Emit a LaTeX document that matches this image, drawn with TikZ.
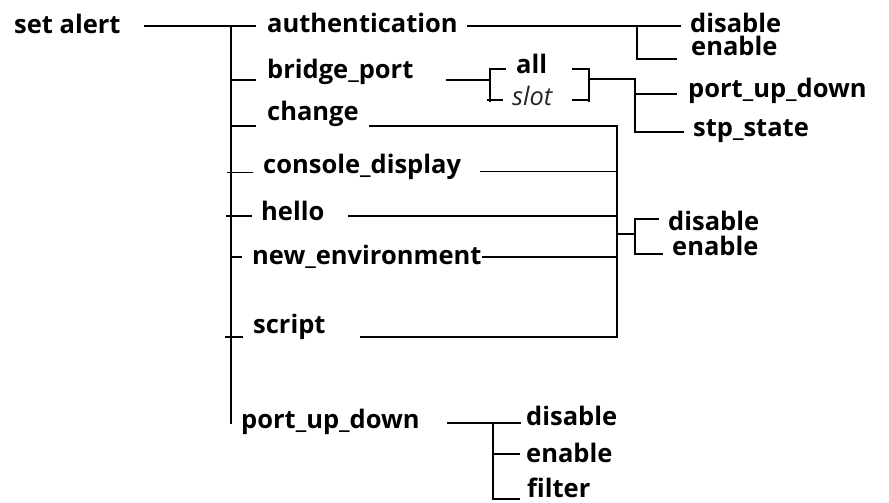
\documentclass[tikz,border=0pt]{standalone}
\usepackage{fontspec}
\setmainfont{Open Sans}
\newcommand{\lbf}{\fontsize{25.5}{30}\selectfont\bfseries}
\newcommand{\lit}{\fontsize{25.5}{30}\selectfont\itshape}
\begin{document}
\begin{tikzpicture}[x=1pt,y=-1pt,
  lbl/.style={anchor=base west, inner sep=0pt, font=\lbf},
  ilbl/.style={anchor=base west, inner sep=0pt, font=\lit, text=black!85},
  ln/.style={line width=1.6pt, line cap=rect},
  thin ln/.style={line width=1pt}]
\useasboundingbox (0,0) rectangle (889,503);
% labels
\node[lbl] (set) at (14,34) {set alert};
\node[lbl] (auth) at (267,33) {authentication};
\node[lbl] (bridge) at (267,78) {bridge\_port};
\node[lbl] (all) at (516,74) {all};
\node[ilbl] (slot) at (512,106) {slot};
\node[lbl] (change) at (267,120) {change};
\node[lbl] (console) at (263,173) {console\_display};
\node[lbl] (hello) at (261,220) {hello};
\node[lbl] (newenv) at (252,264) {new\_environment};
\node[lbl] (script) at (253,333) {script};
\node[lbl] (pud) at (241,428) {port\_up\_down};
\node[lbl, text depth=0pt] (adis) at (690,33) {disable};
\node[lbl, text height=16pt] (aen) at (691,56) {enable};
\node[lbl] (bpud) at (688,97) {port\_up\_down};
\node[lbl] (bstp) at (693,136) {stp\_state};
\node[lbl, text depth=0pt] (mdis) at (668,230) {disable};
\node[lbl, text height=16pt] (men) at (672,255) {enable};
\node[lbl] (pdis) at (526,425) {disable};
\node[lbl] (pen) at (526,462) {enable};
\node[lbl] (pfil) at (527,497) {filter};
% junction coordinates
\coordinate (setR) at (145,26);
\coordinate (mainTop) at (231,26);
\coordinate (mainBot) at (231,423);
\coordinate (authL) at (255,26);
\coordinate (bridgeJ) at (231,80);   \coordinate (bridgeL) at (255,80);
\coordinate (changeJ) at (231,126);  \coordinate (changeL) at (255,126);
\coordinate (consoleJ) at (227,172); \coordinate (consoleL) at (253,172);
\coordinate (helloJ) at (227,216);   \coordinate (helloL) at (251,216);
\coordinate (newenvJ) at (231,257);  \coordinate (newenvL) at (241,257);
\coordinate (scriptJ) at (226,337);  \coordinate (scriptL) at (242,337);
% authentication branch
\coordinate (authR) at (468,26);
\coordinate (authJ) at (637,26);
\coordinate (authE) at (680,26);
\coordinate (authJb) at (637,59);
\coordinate (authEb) at (676,59);
% bridge branch
\coordinate (bridgeR) at (447,80);
\coordinate (lbT) at (490,69); \coordinate (lbB) at (490,101);
\coordinate (lbTe) at (505,69); \coordinate (lbBe) at (502,100); \coordinate (lbBs) at (488,100);
\coordinate (rbT) at (589,69); \coordinate (rbB) at (589,101);
\coordinate (rbTs) at (573,69); \coordinate (rbBs) at (573,100);
\coordinate (rbM) at (589,79);
\coordinate (bJT) at (635,79); \coordinate (bJB) at (635,132);
\coordinate (bJ1) at (635,94); \coordinate (bE1) at (676,94);
\coordinate (bE2) at (683,132);
% common branch
\coordinate (vT) at (617,126); \coordinate (vB) at (617,337);
\coordinate (changeR) at (370,126);
\coordinate (consoleR) at (480,171); \coordinate (consoleV) at (617,171);
\coordinate (helloR) at (349,216);   \coordinate (helloV) at (617,216);
\coordinate (newenvV) at (617,257);
\coordinate (newenvR) at ([xshift=1pt]newenv.east |- newenvV);
\coordinate (scriptR) at (361,337);
\coordinate (vM) at (617,234); \coordinate (mJ) at (635,234);
\coordinate (mT) at (635,219); \coordinate (mB) at (635,254);
\coordinate (mTe) at (658,219); \coordinate (mBe) at (662,254);
% port_up_down branch
\coordinate (pudR) at (448,423); \coordinate (pJT) at (493,423);
\coordinate (pE1) at (520,423);
\coordinate (pJ2) at (493,454); \coordinate (pE2) at (519,454);
\coordinate (pJB) at (493,499); \coordinate (pE3) at (519,499);
% connectors
\draw[ln] (setR) -- (authL);
\draw[ln] (mainTop) -- (mainBot);
\draw[ln] (bridgeJ) -- (bridgeL);
\draw[ln] (changeJ) -- (changeL);
\draw[thin ln] (consoleJ) -- (consoleL);
\draw[ln] (helloJ) -- (helloL);
\draw[ln] (newenvJ) -- (newenvL);
\draw[ln] (scriptJ) -- (scriptL);
\draw[ln] (authR) -- (authE);
\draw[ln] (authJ) -- (authJb) -- (authEb);
\draw[ln] (bridgeR) -- (bridgeR -| lbT);
\draw[ln] (lbTe) -- (lbT) -- (lbB);
\draw[ln] (lbBs) -- (lbBe);
\draw[ln] (rbTs) -- (rbT) -- (rbB);
\draw[ln] (rbBs) -- (rbBs -| rbT);
\draw[ln] (rbM) -- (bJT) -- (bJB) -- (bE2);
\draw[ln] (bJ1) -- (bE1);
\draw[ln] (changeR) -- (vT) -- (vB) -- (scriptR);
\draw[thin ln] (consoleR) -- (consoleV);
\draw[ln] (helloR) -- (helloV);
\draw[ln] (newenvR) -- (newenvV);
\draw[ln] (vM) -- (mJ);
\draw[ln] (mTe) -- (mT) -- (mB) -- (mBe);
\draw[ln] (pudR) -- (pE1);
\draw[ln] (pJT) -- (pJB) -- (pE3);
\draw[ln] (pJ2) -- (pE2);
\end{tikzpicture}
\end{document}
